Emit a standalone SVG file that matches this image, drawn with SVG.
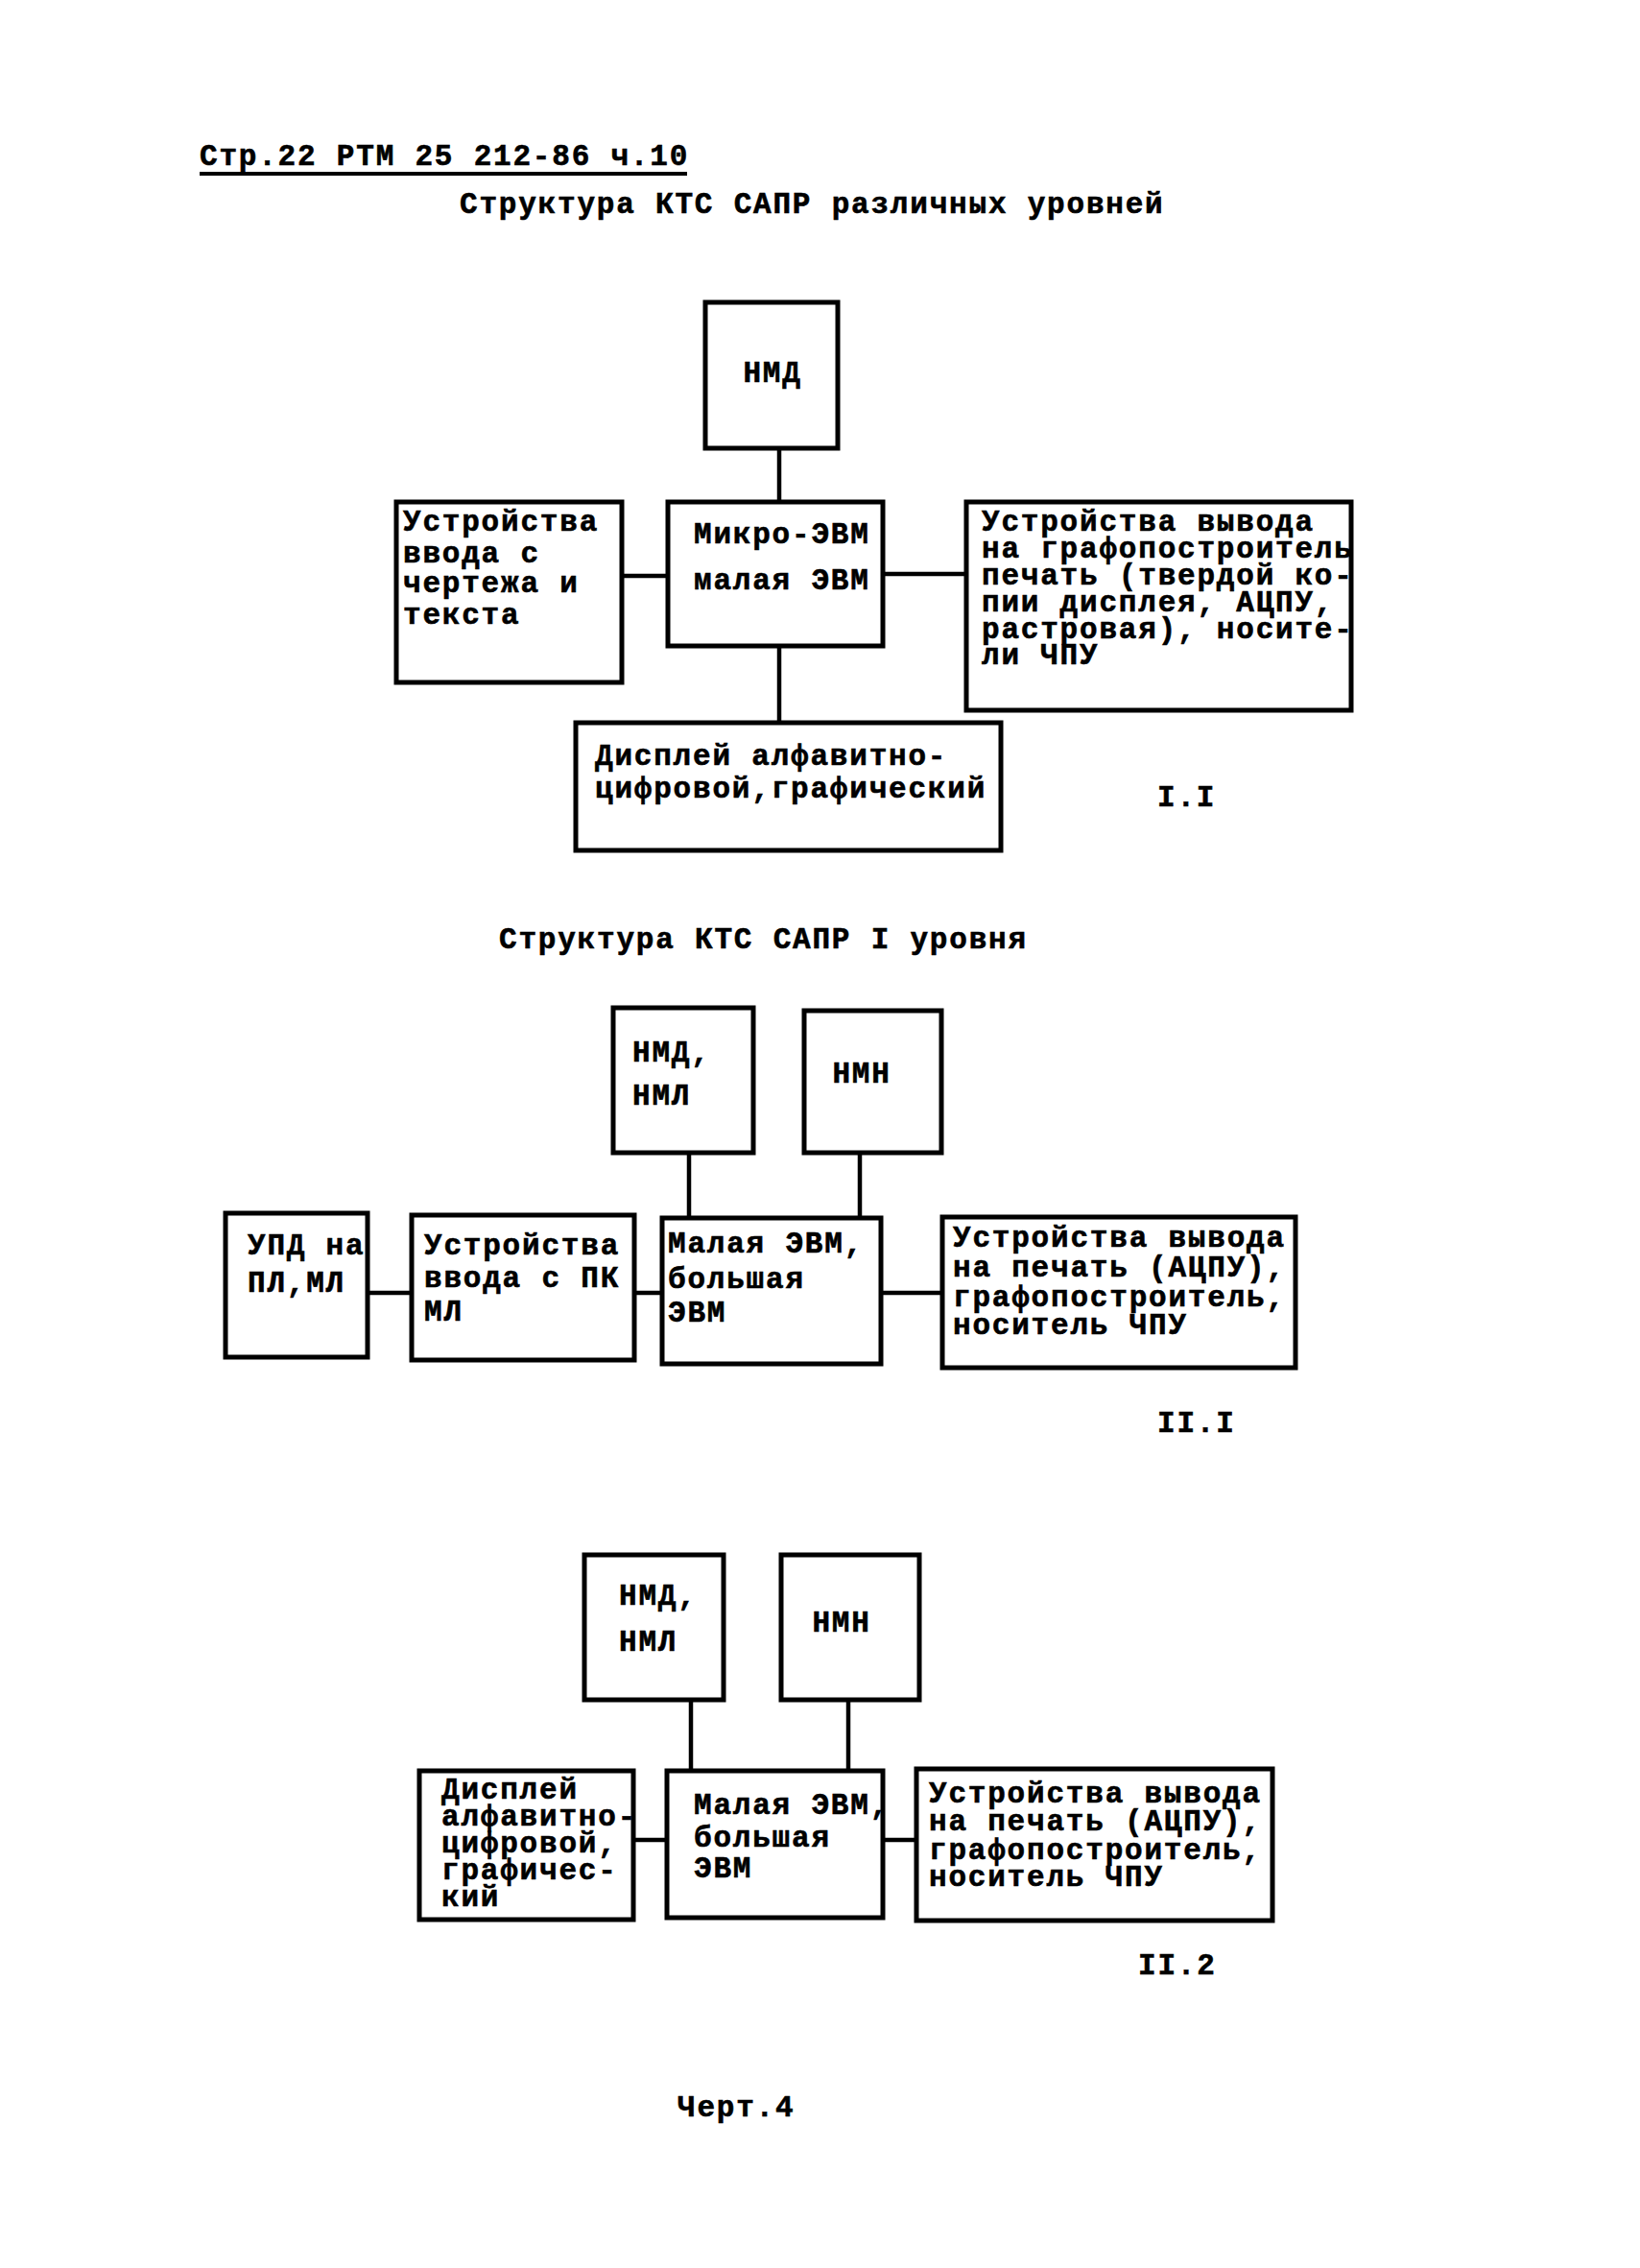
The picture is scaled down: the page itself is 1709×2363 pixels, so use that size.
<svg xmlns="http://www.w3.org/2000/svg" width="1709" height="2363" viewBox="0 0 1709 2363">
<style>
.t{font-family:"Liberation Mono","Courier New",monospace;font-size:31px;letter-spacing:1.8px;font-weight:bold;fill:#000;stroke:#000;stroke-width:0.6}
.c{text-anchor:middle}
.b{fill:#fff;stroke:#000;stroke-width:5}
.l{stroke:#000;stroke-width:4.5;fill:none}
</style>
<rect width="1709" height="2363" fill="#fff"/>
<g id="header">
<text class="t" x="208" y="172">Стр.22 РТМ 25 212-86 ч.10</text>
<line x1="208" y1="181" x2="716" y2="181" stroke="#000" stroke-width="4"/>
<text class="t" x="479" y="222">Структура КТС САПР различных уровней</text>
</g>
<g id="connectors">
<line class="l" x1="812" y1="467" x2="812" y2="523"/>
<line class="l" x1="812" y1="673" x2="812" y2="753"/>
<line class="l" x1="648" y1="600" x2="696" y2="600"/>
<line class="l" x1="920" y1="598" x2="1007" y2="598"/>
<line class="l" x1="718" y1="1201" x2="718" y2="1269"/>
<line class="l" x1="896" y1="1201" x2="896" y2="1269"/>
<line class="l" x1="383" y1="1347" x2="429" y2="1347"/>
<line class="l" x1="661" y1="1347" x2="690" y2="1347"/>
<line class="l" x1="918" y1="1347" x2="982" y2="1347"/>
<line class="l" x1="720" y1="1771" x2="720" y2="1845"/>
<line class="l" x1="884" y1="1771" x2="884" y2="1845"/>
<line class="l" x1="660" y1="1917" x2="695" y2="1917"/>
<line class="l" x1="920" y1="1917" x2="955" y2="1917"/>
</g>
<g id="n1-nmd">
<rect class="b" x="735" y="315" width="138" height="152"/>
<text class="t c" x="805" y="398">НМД</text>
</g>
<g id="n1-micro">
<rect class="b" x="696" y="523" width="224" height="150"/>
<text class="t" x="723" y="566">Микро-ЭВМ</text>
<text class="t" x="723" y="614">малая ЭВМ</text>
</g>
<g id="n1-input">
<rect class="b" x="413" y="523" width="235" height="188"/>
<text class="t" x="420" y="553">Устройства</text>
<text class="t" x="420" y="586">ввода с</text>
<text class="t" x="420" y="617">чертежа и</text>
<text class="t" x="420" y="650">текста</text>
</g>
<g id="n1-output">
<rect class="b" x="1007" y="523" width="401" height="217"/>
<text class="t" x="1023" y="553">Устройства вывода</text>
<text class="t" x="1023" y="581">на графопостроитель</text>
<text class="t" x="1023" y="609">печать (твердой ко-</text>
<text class="t" x="1023" y="637">пии дисплея, АЦПУ,</text>
<text class="t" x="1023" y="665">растровая), носите-</text>
<text class="t" x="1023" y="692">ли ЧПУ</text>
</g>
<g id="n1-display">
<rect class="b" x="600" y="753" width="443" height="133"/>
<text class="t" x="620" y="797">Дисплей алфавитно-</text>
<text class="t" x="620" y="831">цифровой,графический</text>
</g>
<text class="t" x="1206" y="840">I.I</text>
<text class="t" x="520" y="988">Структура КТС САПР I уровня</text>
<g id="n2-nmd">
<rect class="b" x="639" y="1050" width="146" height="151"/>
<text class="t" x="659" y="1106">НМД,</text>
<text class="t" x="659" y="1151">НМЛ</text>
</g>
<g id="n2-nmn">
<rect class="b" x="838" y="1053" width="143" height="148"/>
<text class="t c" x="898" y="1128">НМН</text>
</g>
<g id="n2-upd">
<rect class="b" x="235" y="1264" width="148" height="150"/>
<text class="t" x="258" y="1307">УПД на</text>
<text class="t" x="258" y="1346">ПЛ,МЛ</text>
</g>
<g id="n2-input">
<rect class="b" x="429" y="1266" width="232" height="151"/>
<text class="t" x="442" y="1307">Устройства</text>
<text class="t" x="442" y="1341">ввода с ПК</text>
<text class="t" x="442" y="1376">МЛ</text>
</g>
<g id="n2-evm">
<rect class="b" x="690" y="1269" width="228" height="152"/>
<text class="t" x="696" y="1305">Малая ЭВМ,</text>
<text class="t" x="696" y="1342">большая</text>
<text class="t" x="696" y="1377">ЭВМ</text>
</g>
<g id="n2-output">
<rect class="b" x="982" y="1268" width="368" height="157"/>
<text class="t" x="993" y="1299">Устройства вывода</text>
<text class="t" x="993" y="1330">на печать (АЦПУ),</text>
<text class="t" x="993" y="1361">графопостроитель,</text>
<text class="t" x="993" y="1390">носитель ЧПУ</text>
</g>
<text class="t" x="1206" y="1492">II.I</text>
<g id="n3-nmd">
<rect class="b" x="609" y="1620" width="145" height="151"/>
<text class="t" x="645" y="1672">НМД,</text>
<text class="t" x="645" y="1720">НМЛ</text>
</g>
<g id="n3-nmn">
<rect class="b" x="814" y="1620" width="144" height="151"/>
<text class="t c" x="877" y="1700">НМН</text>
</g>
<g id="n3-display">
<rect class="b" x="437" y="1845" width="223" height="155"/>
<text class="t" x="460" y="1874">Дисплей</text>
<text class="t" x="460" y="1902">алфавитно-</text>
<text class="t" x="460" y="1930">цифровой,</text>
<text class="t" x="460" y="1958">графичес-</text>
<text class="t" x="460" y="1986">кий</text>
</g>
<g id="n3-evm">
<rect class="b" x="695" y="1845" width="225" height="153"/>
<text class="t" x="723" y="1890">Малая ЭВМ,</text>
<text class="t" x="723" y="1924">большая</text>
<text class="t" x="723" y="1956">ЭВМ</text>
</g>
<g id="n3-output">
<rect class="b" x="955" y="1843" width="371" height="158"/>
<text class="t" x="968" y="1878">Устройства вывода</text>
<text class="t" x="968" y="1907">на печать (АЦПУ),</text>
<text class="t" x="968" y="1937">графопостроитель,</text>
<text class="t" x="968" y="1965">носитель ЧПУ</text>
</g>
<text class="t" x="1186" y="2057">II.2</text>
<text class="t" x="706" y="2205">Черт.4</text>
</svg>
